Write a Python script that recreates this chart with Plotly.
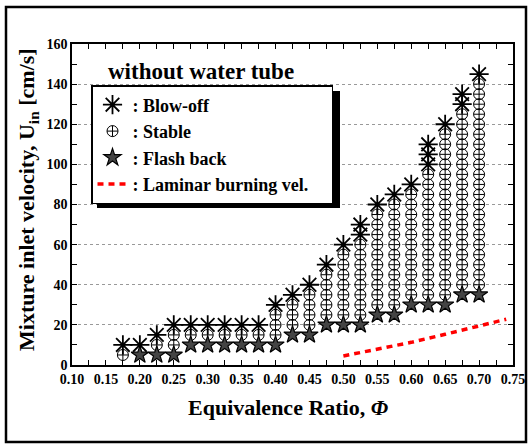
import plotly.graph_objects as go

# ---- data ----
blow_phi = [0.175, 0.20, 0.225, 0.25, 0.275, 0.30, 0.325, 0.35, 0.375, 0.40, 0.425, 0.45,
            0.475, 0.50, 0.525, 0.525, 0.55, 0.575, 0.60, 0.625, 0.625, 0.625, 0.65,
            0.675, 0.675, 0.70]
blow_u = [10, 10, 15, 20, 20, 20, 20, 20, 20, 30, 35, 40,
          50, 60, 65, 70, 80, 85, 90, 100, 105, 110, 120,
          130, 135, 145]

flash_phi = [0.20, 0.225, 0.25, 0.275, 0.30, 0.325, 0.35, 0.375, 0.40, 0.425, 0.45,
             0.475, 0.50, 0.525, 0.55, 0.575, 0.60, 0.625, 0.65, 0.675, 0.70]
flash_u = [5, 5, 5, 10, 10, 10, 10, 10, 10, 15, 15,
           20, 20, 20, 25, 25, 30, 30, 30, 35, 35]

stable_phi = (
    [0.175] * 1 + [0.225] * 1 + [0.25] * 2 + [0.275] * 1 + [0.30] * 1 + [0.325] * 1
    + [0.35] * 1 + [0.375] * 1 + [0.40] * 3 + [0.425] * 3 + [0.45] * 4 + [0.475] * 5
    + [0.50] * 7 + [0.525] * 8 + [0.55] * 10 + [0.575] * 11 + [0.60] * 11 + [0.625] * 13
    + [0.65] * 17 + [0.675] * 18 + [0.70] * 21
)
stable_u = (
    [5]                                   # 0.175
    + [10]                                # 0.225
    + [10, 15]                            # 0.25
    + [15] + [15] + [15] + [15] + [15]    # 0.275 - 0.375
    + [15, 20, 25]                        # 0.40
    + [20, 25, 30]                        # 0.425
    + [20, 25, 30, 35]                    # 0.45
    + [25, 30, 35, 40, 45]                # 0.475
    + [25, 30, 35, 40, 45, 50, 55]        # 0.50
    + [25, 30, 35, 40, 45, 50, 55, 60]    # 0.525
    + [30, 35, 40, 45, 50, 55, 60, 65, 70, 75]                # 0.55
    + [30, 35, 40, 45, 50, 55, 60, 65, 70, 75, 80]            # 0.575
    + [35, 40, 45, 50, 55, 60, 65, 70, 75, 80, 85]            # 0.60
    + [35, 40, 45, 50, 55, 60, 65, 70, 75, 80, 85, 90, 95]    # 0.625
    + [35, 40, 45, 50, 55, 60, 65, 70, 75, 80, 85, 90, 95, 100, 105, 110, 115]        # 0.65
    + [40, 45, 50, 55, 60, 65, 70, 75, 80, 85, 90, 95, 100, 105, 110, 115, 120, 125]  # 0.675
    + [40, 45, 50, 55, 60, 65, 70, 75, 80, 85, 90, 95, 100, 105, 110, 115, 120, 125,
       130, 135, 140]                                                                 # 0.70
)

lam_phi = [0.50, 0.55, 0.60, 0.65, 0.70, 0.74]
lam_u = [4.5, 7.8, 11.3, 15.3, 19.6, 22.8]

x_tickvals = [0.10, 0.15, 0.20, 0.25, 0.30, 0.35, 0.40, 0.45, 0.50, 0.55, 0.60, 0.65, 0.70, 0.75]
x_ticktext = ["0.10", "0.15", "0.20", "0.25", "0.30", "0.35", "0.40", "0.45", "0.50",
              "0.55", "0.60", "0.65", "0.70", "0.75"]
y_tickvals = [0, 20, 40, 60, 80, 100, 120, 140, 160]
y_ticktext = ["0", "20", "40", "60", "80", "100", "120", "140", "160"]

FONT = "Liberation Serif"
NB = "\u00a0"

fig = go.Figure()
fig.add_trace(go.Scatter(
    x=stable_phi, y=stable_u, mode="markers", name="<b>: Stable</b>", legendrank=2,
    marker=dict(symbol="circle-cross-open", size=11, color="black", line=dict(color="black", width=1)),
))
fig.add_trace(go.Scatter(
    x=blow_phi, y=blow_u, mode="markers", name="<b>: Blow-off</b>", legendrank=1,
    marker=dict(symbol="asterisk-open", size=16, color="black", line=dict(color="black", width=1.8)),
))
fig.add_trace(go.Scatter(
    x=flash_phi, y=flash_u, mode="markers", name="<b>: Flash back</b>", legendrank=3,
    marker=dict(symbol="star", size=13, color="#444444", line=dict(color="black", width=1.2)),
))
fig.add_trace(go.Scatter(
    x=lam_phi, y=lam_u, mode="lines", name="<b>: Laminar burning vel.</b>" + NB * 4, legendrank=4,
    line=dict(color="#ff0000", width=3.5, dash="6px,5px"),
))

# plot area: x 72..513 px, y 44..365 px
fig.update_layout(
    width=528, height=445, autosize=False,
    margin=dict(l=72, r=15, t=44, b=80, pad=0),
    paper_bgcolor="white", plot_bgcolor="white",
    font=dict(family=FONT, color="black", weight="bold"),
    showlegend=True,
    legend=dict(
        x=(91 - 72) / 441, y=(365 - 85) / 321, xanchor="left", yanchor="top",
        bgcolor="white", bordercolor="black", borderwidth=1.5,
        font=dict(family=FONT, size=18, color="black", weight="bold"),
        tracegroupgap=0, itemsizing="trace", traceorder="normal",
    ),
)
fig.update_xaxes(
    range=[0.10, 0.75], tickvals=x_tickvals, ticktext=["<b>%s</b>" % t for t in x_ticktext],
    ticks="inside", ticklen=5, tickwidth=1, tickcolor="black",
    minor=dict(dtick=0.025, tick0=0.10, ticks="inside", ticklen=5, tickcolor="black", tickwidth=1),
    showline=True, linecolor="black", linewidth=1.5, mirror="ticks",
    showgrid=False, zeroline=False, automargin=False,
    tickfont=dict(family=FONT, size=14, color="black", weight="bold"),
)
fig.update_yaxes(
    range=[0, 160], tickvals=y_tickvals, ticktext=["<b>%s</b>" % t for t in y_ticktext],
    ticks="inside", ticklen=5, tickwidth=1, tickcolor="black",
    minor=dict(dtick=10, ticks="inside", ticklen=5, tickcolor="black", tickwidth=1),
    showline=True, linecolor="black", linewidth=1.5, mirror="ticks",
    showgrid=True, gridcolor="#999999", gridwidth=1, griddash="3px,3px", zeroline=False,
    automargin=False,
    tickfont=dict(family=FONT, size=14, color="black", weight="bold"),
)

pw, ph = 441.0, 321.0
def px(xp):
    return (xp - 72) / pw
def py(yp):
    return (365 - yp) / ph

# legend shadow
fig.add_shape(type="rect", xref="paper", yref="paper",
              x0=px(97), x1=px(340), y0=py(208), y1=py(91),
              fillcolor="black", line=dict(width=0), layer="above")
# figure frame
fig.add_shape(type="rect", xref="paper", yref="paper",
              x0=px(6), x1=px(526), y0=py(442), y1=py(7),
              line=dict(color="black", width=2.5), layer="above")

fig.add_annotation(text="<b>without water tube</b>", xref="paper", yref="paper",
                   x=px(201), y=py(71), xanchor="center", yanchor="middle", showarrow=False,
                   font=dict(family=FONT, size=23, color="black", weight="bold"))
fig.add_annotation(text="<b>Equivalence Ratio, <i>Φ</i></b>", xref="paper", yref="paper",
                   x=px(288), y=py(407), xanchor="center", yanchor="middle", showarrow=False,
                   font=dict(family=FONT, size=22, color="black", weight="bold"))
fig.add_annotation(text="<b>Mixture inlet velocity, U<sub>in</sub> [cm/s]</b>", xref="paper", yref="paper",
                   x=px(28), y=py(200), xanchor="center", yanchor="middle", showarrow=False, textangle=-90,
                   font=dict(family=FONT, size=22, color="black", weight="bold"))

fig.write_html("out.html")
